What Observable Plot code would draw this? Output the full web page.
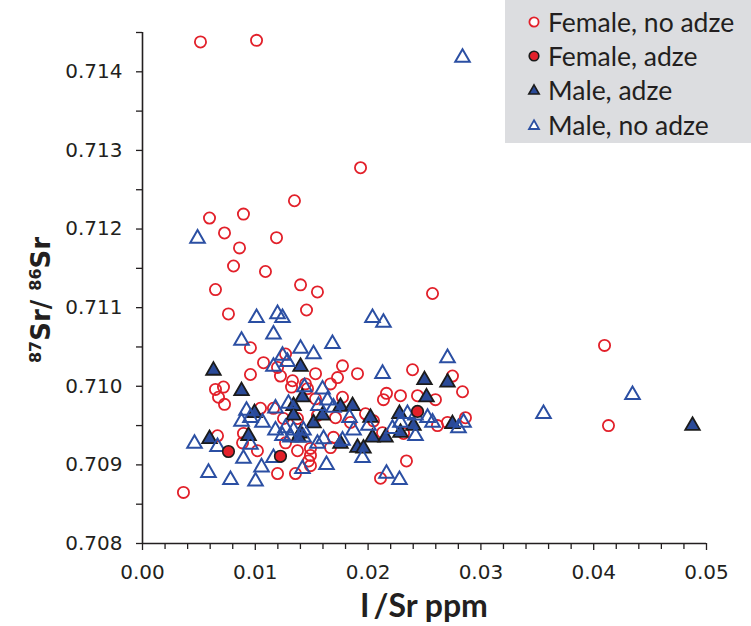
<!DOCTYPE html>
<html>
<head>
<meta charset="utf-8">
<script src="https://cdn.jsdelivr.net/npm/d3@7"></script>
<script src="https://cdn.jsdelivr.net/npm/@observablehq/plot@0.6"></script>
<style>
  html, body { margin: 0; padding: 0; background: #fff; }
  #wrap { position: relative; width: 751px; height: 626px; }
  #legend { position: absolute; left: 505px; top: 0px; width: 246px; height: 143px; background: #dcdde0; }
  .item { position: absolute; left: 0; height: 30px; display: flex; align-items: center; font-family: Lato, sans-serif; font-size: 26.5px; color: #231f20; white-space: nowrap; }
  .item svg { margin-left: 22px; margin-right: 7px; }
</style>
</head>
<body>
<div id="wrap"><div id="legend"></div></div>
<script>
// ---- data (I/Sr ppm, 87Sr/86Sr) ----
const femaleNoAdzeX = [0.00514,0.01011,0.01933,0.01347,0.00594,0.00895,0.00727,0.01188,0.0086,0.00807,0.0109,0.00647,0.01401,0.01551,0.02571,0.00762,0.01454,0.04096,0.04131,
  0.00957,0.01073,0.00957,0.00718,0.00647,0.00674,0.00727,0.01268,0.01197,0.01223,0.0133,0.01321,0.01534,0.01773,0.01729,0.01906,0.01773,0.01534,0.01463,0.01046,0.01161,
  0.0125,0.01374,0.01551,0.01711,0.01844,0.00665,0.00895,0.00887,0.01019,0.01268,0.01374,0.01489,0.01489,0.01472,0.01489,0.01667,0.01197,0.01356,0.00363,
  0.02394,0.02748,0.02837,0.02163,0.02136,0.02287,0.02438,0.02597,0.01667,0.01977,0.02048,0.02128,0.02314,0.02615,0.02704,0.02863,0.01693,0.0234,0.0211,0.01445];
const femaleNoAdzeY = [0.71438,0.7144,0.71278,0.71236,0.71214,0.71219,0.71195,0.71189,0.71176,0.71153,0.71146,0.71123,0.71129,0.7112,0.71118,0.71092,0.71097,0.71052,0.7095,
  0.71049,0.7103,0.71015,0.70999,0.70996,0.70986,0.70977,0.71041,0.71024,0.71013,0.71007,0.70999,0.71016,0.71026,0.71011,0.71016,0.70986,0.70984,0.70997,0.70972,0.70972,
  0.70959,0.70959,0.70963,0.7096,0.70954,0.70937,0.7094,0.70928,0.70918,0.70928,0.70918,0.70921,0.70912,0.70905,0.70899,0.70922,0.70889,0.70889,0.70865,
  0.71021,0.71013,0.70993,0.70991,0.70983,0.70988,0.70988,0.70983,0.71003,0.70965,0.70956,0.70941,0.7094,0.7095,0.70954,0.7096,0.70935,0.70905,0.70883,0.71003];

const femaleAdzeX = [0.00762,0.01223,0.02438];
const femaleAdzeY = [0.70917,0.70911,0.70968];

const maleAdzeX = [0.00629,0.00878,0.01401,0.01418,0.01339,0.01339,0.01401,0.01516,0.01596,0.01755,0.01862,0.01755,0.01906,0.01959,0.00993,0.0094,0.00594,
  0.02021,0.02039,0.02154,0.02278,0.02287,0.02402,0.025,0.02704,0.02518,0.02748,0.04876,0.01383];
const maleAdzeY = [0.7102,0.70994,0.71025,0.70986,0.70975,0.70963,0.7094,0.70953,0.70963,0.70974,0.70975,0.70927,0.70922,0.70921,0.70966,0.70937,0.70933,
  0.7096,0.70935,0.70935,0.70965,0.70941,0.7095,0.71008,0.71005,0.70986,0.70952,0.7095,0.70935];

const maleNoAdzeX = [0.02837,0.00488,0.01011,0.01197,0.01241,0.02039,0.02136,0.01161,0.00878,0.01401,0.01516,0.01684,0.01241,0.01285,0.01161,0.02704,0.02128,
  0.01436,0.01596,0.0164,0.0156,0.01693,0.01294,0.01179,0.00922,0.00957,0.00878,0.01064,0.01179,0.01268,0.01339,0.01427,0.01241,0.01312,0.01605,0.01551,0.01427,
  0.01835,0.01871,0.01773,0.00461,0.00665,0.00957,0.00895,0.01161,0.01418,0.01631,0.00585,0.01055,0.0078,0.01002,0.02003,0.02349,0.0242,0.02527,0.02571,0.02287,
  0.0242,0.02216,0.02846,0.02801,0.0195,0.02163,0.02278,0.03555,0.04344];
const maleNoAdzeY = [0.71418,0.71188,0.71087,0.71092,0.71087,0.71087,0.71081,0.71066,0.71058,0.71048,0.71041,0.71054,0.71039,0.71031,0.71025,0.71036,0.71016,
  0.70999,0.70996,0.70982,0.70975,0.70973,0.70978,0.70972,0.70969,0.7096,0.70955,0.70954,0.70944,0.70947,0.70944,0.70944,0.70937,0.70935,0.70933,0.70927,0.70935,
  0.7096,0.70944,0.70931,0.70927,0.70923,0.70926,0.70908,0.70909,0.70895,0.709,0.7089,0.70897,0.70881,0.70879,0.7095,0.70965,0.70963,0.7096,0.70954,0.70954,
  0.70937,0.70946,0.70954,0.70947,0.70909,0.70889,0.70881,0.70965,0.70989];

const xMajor = [0, 0.01, 0.02, 0.03, 0.04, 0.05];
const xMinor = [0.002,0.004,0.006,0.008,0.012,0.014,0.016,0.018,0.022,0.024,0.026,0.028,0.032,0.034,0.036,0.038,0.042,0.044,0.046,0.048];
const yMajor = [0.708, 0.709, 0.710, 0.711, 0.712, 0.713, 0.714];
const yMinor = [0.7085, 0.7095, 0.7105, 0.7115, 0.7125, 0.7135, 0.7145];

const legendLabels = ["Female, no adze", "Female, adze", "Male, adze", "Male, no adze"];

const pts = (xs, ys) => xs.map((x, i) => ({x, y: ys[i]}));

const RED = "#e2202a", BLUE = "#2b4fa3", DARK = "#2a4a98", INK = "#231f20";

const plot = Plot.plot({
  width: 751,
  height: 626,
  marginLeft: 142,
  marginRight: 45,
  marginTop: 32,
  marginBottom: 83,
  style: {fontFamily: "DejaVu Sans, sans-serif", fontSize: "20px", color: INK, background: "transparent"},
  x: {domain: [0, 0.05], label: null},
  y: {domain: [0.708, 0.7145], label: null},
  marks: [
    Plot.axisX(xMajor, {tickSize: 7, tickPadding: 14, tickFormat: d3.format(".2f"), stroke: INK, strokeWidth: 1.3, fill: INK}),
    Plot.axisX(xMinor, {tickSize: 6, tickFormat: () => "", stroke: INK, strokeWidth: 1.3}),
    Plot.axisY(yMajor, {tickSize: 6, tickPadding: 14, tickFormat: d3.format(".3f"), stroke: INK, strokeWidth: 1.3, fill: INK}),
    Plot.axisY(yMinor, {tickSize: 6, tickFormat: () => "", stroke: INK, strokeWidth: 1.3}),
    Plot.ruleY([0.708], {x1: 0, x2: 0.05, stroke: INK, strokeWidth: 1.6}),
    Plot.ruleX([0], {y1: 0.708, y2: 0.7145, stroke: INK, strokeWidth: 1.6}),
    Plot.dot(pts(femaleNoAdzeX, femaleNoAdzeY), {x: "x", y: "y", r: 5.6, symbol: "circle", stroke: RED, strokeWidth: 1.8, fill: "none"}),
    Plot.dot(pts(maleAdzeX, maleAdzeY), {x: "x", y: "y", r: 5.4, symbol: "triangle", stroke: "#1b1b1b", strokeWidth: 1.8, fill: DARK}),
    Plot.dot(pts(maleNoAdzeX, maleNoAdzeY), {x: "x", y: "y", r: 5.4, symbol: "triangle", stroke: BLUE, strokeWidth: 2, fill: "none"}),
    Plot.dot(pts(femaleAdzeX, femaleAdzeY), {x: "x", y: "y", r: 5.8, symbol: "circle", stroke: "#1b1b1b", strokeWidth: 1.6, fill: RED})
  ]
});

const svg = d3.select(plot);
// axis titles
svg.append("text")
  .attr("x", 424).attr("y", 617)
  .attr("text-anchor", "middle")
  .style("font-family", "Lato, sans-serif").style("font-weight", "700").style("font-size", "32px").style("fill", INK)
  .text("I\u2009/Sr ppm");
const yt = svg.append("text")
  .attr("transform", "translate(50,300) rotate(-90)")
  .attr("text-anchor", "middle")
  .style("font-family", "DejaVu Sans, sans-serif").style("font-weight", "700").style("font-size", "26px").style("fill", INK);
yt.append("tspan").attr("dy", "-9").style("font-size", "16px").text("87");
yt.append("tspan").attr("dy", "9").text("Sr/ ");
yt.append("tspan").attr("dy", "-9").style("font-size", "16px").text("86");
yt.append("tspan").attr("dy", "9").text("Sr");

document.getElementById("wrap").prepend(plot);

// legend
const legend = document.getElementById("legend");
const rowsY = [22, 56, 90, 125];
const markers = [
  `<circle cx="7" cy="7" r="4.6" fill="#fff" stroke="${RED}" stroke-width="1.8"/>`,
  `<circle cx="7" cy="7" r="4.8" fill="${RED}" stroke="#1b1b1b" stroke-width="1.6"/>`,
  `<path d="M7,1.8 L12.2,11 L1.8,11 Z" fill="${DARK}" stroke="#1b1b1b" stroke-width="1.6"/>`,
  `<path d="M7,2.2 L12,11 L2,11 Z" fill="#fff" stroke="${BLUE}" stroke-width="1.8"/>`
];
legendLabels.forEach((lab, i) => {
  const d = document.createElement("div");
  d.className = "item";
  d.style.top = (rowsY[i] - 15) + "px";
  d.innerHTML = `<svg width="14" height="14" viewBox="0 0 14 14">${markers[i]}</svg><span>${lab}</span>`;
  legend.appendChild(d);
});
</script>
</body>
</html>
